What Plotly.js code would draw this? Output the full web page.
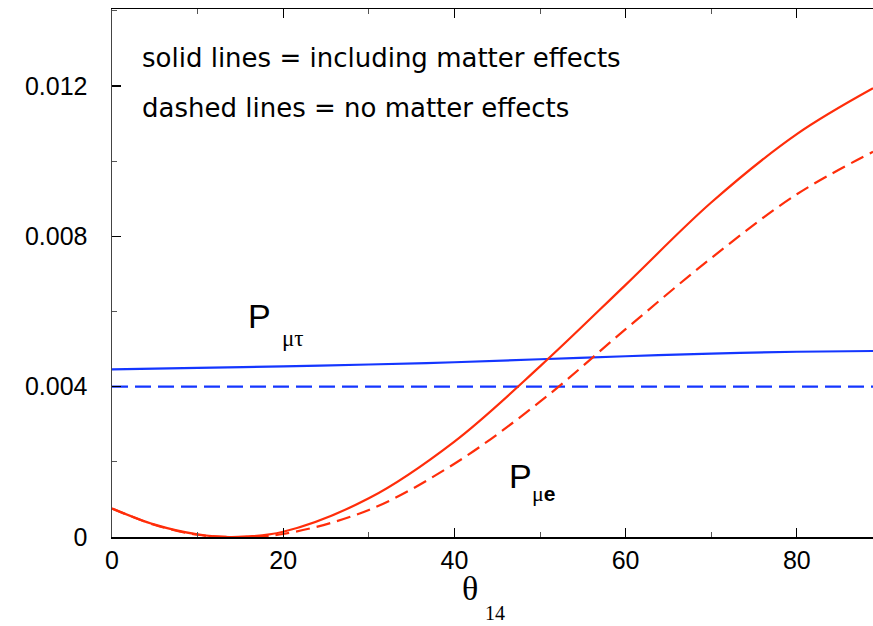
<!DOCTYPE html>
<html>
<head>
<meta charset="utf-8">
<script src="https://cdn.plot.ly/plotly-3.0.1.min.js"></script>
<style>html,body{margin:0;padding:0;background:#fff;}#chart{width:873px;height:626px;}</style>
</head>
<body>
<div id="chart"></div>
<script>
// Data
const thetaMatter = [0, 5, 10, 14, 20, 30, 40, 50, 60, 70, 80, 88.9];
const pmeMatter   = [0.00076, 0.00033, 0.00007, 0.0, 0.00014, 0.00103, 0.00254, 0.00454, 0.00671, 0.0089, 0.01072, 0.01194];

const thetaVacuum = [0, 5, 10, 14, 20, 30, 40, 50, 60, 70, 80, 88.9];
const pmeVacuum   = [0.00076, 0.00032, 0.00006, 0.0, 0.00008, 0.00072, 0.00195, 0.0036, 0.00553, 0.00742, 0.00912, 0.01025];

const thetaMuTau   = [0, 10, 20, 30, 40, 50, 60, 70, 80, 88.9];
const pmtMatter    = [0.00446, 0.0045, 0.00454, 0.00459, 0.00465, 0.00473, 0.00481, 0.00488, 0.00493, 0.00495];
const pmtVacuum    = [0.004, 0.004, 0.004, 0.004, 0.004, 0.004, 0.004, 0.004, 0.004, 0.004];

const xTickVals = [0, 20, 40, 60, 80];
const yTickVals = [0, 0.004, 0.008, 0.012];
const yTickText = ['0', '0.004', '0.008', '0.012'];

const RED = '#ff2d0a';
const BLUE = '#1436ff';

const traces = [
  {x: thetaMuTau, y: pmtVacuum, mode: 'lines', line: {color: BLUE, width: 2.2, dash: '16px,7px'}, hoverinfo: 'skip'},
  {x: thetaMuTau, y: pmtMatter, mode: 'lines', line: {color: BLUE, width: 2.2, shape: 'spline', smoothing: 1}, hoverinfo: 'skip'},
  {x: thetaVacuum, y: pmeVacuum, mode: 'lines', line: {color: RED, width: 2.2, dash: '14px,7px', shape: 'spline', smoothing: 1}, hoverinfo: 'skip'},
  {x: thetaMatter, y: pmeMatter, mode: 'lines', line: {color: RED, width: 2.2, shape: 'spline', smoothing: 1}, hoverinfo: 'skip'}
];

const tickFont = {family: 'Liberation Sans, Arial, sans-serif', size: 25, color: '#000'};
const noteFont = {family: 'DejaVu Sans, sans-serif', size: 26, color: '#000'};

const layout = {
  width: 873, height: 626,
  margin: {l: 112, r: 0, t: 9, b: 89, pad: 0},
  paper_bgcolor: '#fff', plot_bgcolor: '#fff',
  showlegend: false,
  xaxis: {
    range: [0, 88.9], tickvals: xTickVals, ticks: 'inside', ticklen: 9, tickwidth: 1.2, tickcolor: '#000',
    minor: {dtick: 10, ticks: 'inside', ticklen: 5, tickcolor: '#555', tickwidth: 1},
    showline: true, linecolor: '#000', linewidth: 1.5, mirror: 'ticks',
    showgrid: false, zeroline: false, tickfont: tickFont, ticklabelstandoff: 0
  },
  yaxis: {
    range: [0, 0.01405], tickvals: yTickVals, ticktext: yTickText, ticks: 'inside', ticklen: 9, tickwidth: 1.2, tickcolor: '#000',
    minor: {dtick: 0.002, ticks: 'inside', ticklen: 5, tickcolor: '#555', tickwidth: 1},
    showline: true, linecolor: '#444', linewidth: 1.5,
    showgrid: false, zeroline: false, tickfont: tickFont, ticklabelstandoff: 18
  },
  annotations: [
    {x: 3.3, y: 0.01275, xref: 'x', yref: 'y', xanchor: 'left', yanchor: 'middle', showarrow: false,
     text: 'solid lines = including matter effects', font: noteFont},
    {x: 3.3, y: 0.01142, xref: 'x', yref: 'y', xanchor: 'left', yanchor: 'middle', showarrow: false,
     text: 'dashed lines = no matter effects', font: noteFont},
    {x: 15.7, y: 0.00588, xref: 'x', yref: 'y', xanchor: 'left', yanchor: 'middle', showarrow: false,
     text: 'P', font: {family: 'Liberation Sans, Arial, sans-serif', size: 34, color: '#000'}},
    {x: 19.6, y: 0.00528, xref: 'x', yref: 'y', xanchor: 'left', yanchor: 'middle', showarrow: false,
     text: 'μτ', font: {family: 'Liberation Serif, Times New Roman, serif', size: 23, color: '#000'}},
    {x: 46.2, y: 0.00163, xref: 'x', yref: 'y', xanchor: 'left', yanchor: 'middle', showarrow: false,
     text: 'P', font: {family: 'Liberation Sans, Arial, sans-serif', size: 34, color: '#000'}},
    {x: 48.8, y: 0.00115, xref: 'x', yref: 'y', xanchor: 'left', yanchor: 'middle', showarrow: false,
     text: 'μ<span style="font-family:Liberation Sans;font-size:21px"><b>e</b></span>', font: {family: 'Liberation Serif, Times New Roman, serif', size: 22, color: '#000'}},
    {x: 41.8, y: -0.098, xref: 'x', yref: 'paper', xanchor: 'center', yanchor: 'middle', showarrow: false,
     text: 'θ', font: {family: 'Liberation Serif, Times New Roman, serif', size: 34, color: '#000'}},
    {x: 43.3, y: -0.143, xref: 'x', yref: 'paper', xanchor: 'left', yanchor: 'middle', showarrow: false,
     text: '14', font: {family: 'Liberation Serif, Times New Roman, serif', size: 20, color: '#000'}}
  ]
};

Plotly.newPlot('chart', traces, layout, {staticPlot: true, displayModeBar: false});
</script>
</body>
</html>
